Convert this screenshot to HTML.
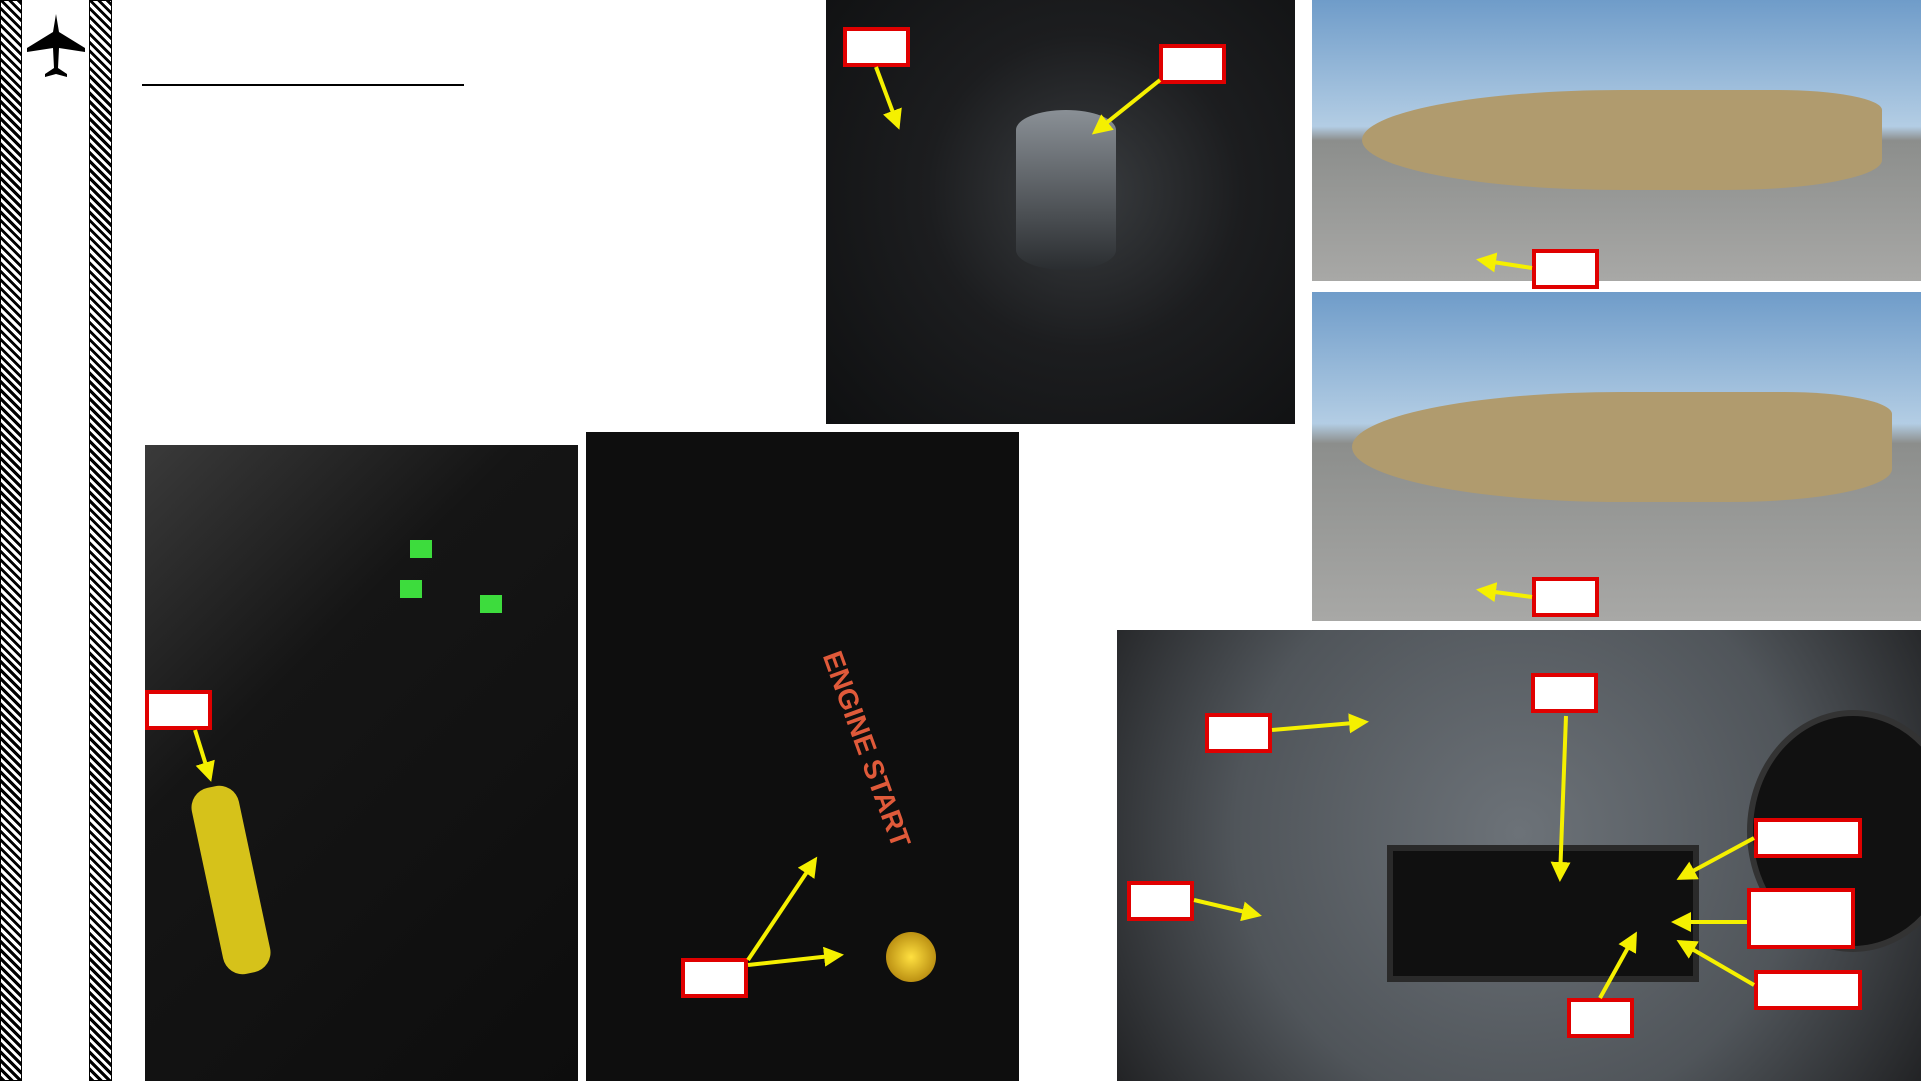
<!DOCTYPE html>
<html><head><meta charset="utf-8">
<style>
html,body{margin:0;padding:0;width:1921px;height:1081px;overflow:hidden;background:#fff;font-family:"Liberation Sans",sans-serif;}
.abs{position:absolute;}
.stripe{background:repeating-linear-gradient(45deg,#000 0 3px,#fff 3px 6px);border:1px solid #000;box-sizing:border-box;}
.photo{position:absolute;overflow:hidden;}
.box{position:absolute;background:#fff;border:4px solid #e00000;box-sizing:border-box;}
</style></head><body>
<div class="abs stripe" style="left:0;top:0;width:22px;height:1081px"></div>
<div class="abs stripe" style="left:89px;top:0;width:23px;height:1081px"></div>
<svg class="abs" style="left:25px;top:12px" width="62" height="70" viewBox="0 0 62 70">
<path d="M31 2 L34 20 L60 36 L60 40 L34 36 L33 56 L42 62 L42 65 L31 62 L20 65 L20 62 L29 56 L28 36 L2 40 L2 36 L28 20 Z" fill="#000"/></svg>
<div class="abs" style="left:142px;top:84px;width:322px;height:2px;background:#000"></div>

<div class="photo" style="left:826px;top:0;width:469px;height:424px;background:radial-gradient(circle at 55% 45%,#3a3d40 0,#1c1d1f 45%,#0f1011 100%)">
<div class="abs" style="left:190px;top:110px;width:100px;height:160px;border-radius:50px/20px;background:linear-gradient(#8a9096,#2a2d30)"></div></div>
<div class="photo" style="left:1312px;top:0;width:609px;height:281px;background:linear-gradient(#6f9cc9 0,#b3cde4 45%,#8c8e8c 50%,#a8a8a6 100%)">
<div class="abs" style="left:50px;top:90px;width:520px;height:100px;background:#b09b6e;border-radius:50% 20% 30% 50%"></div></div>
<div class="photo" style="left:1312px;top:292px;width:609px;height:329px;background:linear-gradient(#6f9cc9 0,#b3cde4 40%,#8c8e8c 46%,#a8a8a6 100%)">
<div class="abs" style="left:40px;top:100px;width:540px;height:110px;background:#b09b6e;border-radius:50% 20% 30% 50%"></div></div>
<div class="photo" style="left:145px;top:445px;width:433px;height:636px;background:linear-gradient(135deg,#3a3a3a 0,#151515 35%,#0d0d0d 100%)">
<div class="abs" style="left:62px;top:340px;width:48px;height:190px;background:#d6c21a;border-radius:20px;transform:rotate(-12deg)"></div>
<div class="abs" style="left:265px;top:95px;width:22px;height:18px;background:#3ddc3d"></div>
<div class="abs" style="left:255px;top:135px;width:22px;height:18px;background:#3ddc3d"></div>
<div class="abs" style="left:335px;top:150px;width:22px;height:18px;background:#3ddc3d"></div></div>
<div class="photo" style="left:586px;top:432px;width:433px;height:649px;background:#0e0e0e">
<div class="abs" style="left:300px;top:500px;width:50px;height:50px;border-radius:50%;background:radial-gradient(#ffe040,#a07000)"></div>
<div class="abs" style="left:260px;top:215px;color:#e05a3a;font-size:28px;font-weight:bold;white-space:nowrap;transform:rotate(70deg);transform-origin:left top">ENGINE START</div></div>
<div class="photo" style="left:1117px;top:630px;width:804px;height:451px;background:radial-gradient(circle at 50% 45%,#6c7278 0,#50555a 60%,#222325 100%)">
<div class="abs" style="left:270px;top:215px;width:300px;height:125px;background:#101010;border:6px solid #2a2a2a"></div>
<div class="abs" style="left:630px;top:80px;width:200px;height:230px;border-radius:50%;background:#111;border:6px solid #333"></div></div>

<div class="box" style="left:843px;top:27px;width:67px;height:40px"></div>
<div class="box" style="left:1159px;top:44px;width:67px;height:40px"></div>
<div class="box" style="left:1532px;top:249px;width:67px;height:40px"></div>
<div class="box" style="left:1532px;top:577px;width:67px;height:40px"></div>
<div class="box" style="left:145px;top:690px;width:67px;height:40px"></div>
<div class="box" style="left:681px;top:958px;width:67px;height:40px"></div>
<div class="box" style="left:1205px;top:713px;width:67px;height:40px"></div>
<div class="box" style="left:1531px;top:673px;width:67px;height:40px"></div>
<div class="box" style="left:1127px;top:881px;width:67px;height:40px"></div>
<div class="box" style="left:1754px;top:818px;width:108px;height:40px"></div>
<div class="box" style="left:1747px;top:888px;width:108px;height:61px"></div>
<div class="box" style="left:1754px;top:970px;width:108px;height:40px"></div>
<div class="box" style="left:1567px;top:998px;width:67px;height:40px"></div>
<svg class="abs" style="left:0;top:0" width="1921" height="1081">
<defs><marker id="ah" markerWidth="5" markerHeight="5" refX="4" refY="2.5" orient="auto"><path d="M0 0 L5 2.5 L0 5 Z" fill="#f5f000"/></marker></defs>
<g stroke="#f5f000" stroke-width="4" fill="none" marker-end="url(#ah)">
<line x1="876" y1="67" x2="898" y2="126"/><line x1="1160" y1="80" x2="1095" y2="132"/>
<line x1="1532" y1="268" x2="1480" y2="260"/><line x1="1532" y1="597" x2="1480" y2="590"/>
<line x1="195" y1="730" x2="210" y2="778"/><line x1="748" y1="960" x2="815" y2="860"/>
<line x1="748" y1="965" x2="840" y2="955"/><line x1="1272" y1="730" x2="1365" y2="722"/>
<line x1="1566" y1="716" x2="1560" y2="878"/><line x1="1194" y1="900" x2="1258" y2="915"/>
<line x1="1754" y1="838" x2="1680" y2="878"/><line x1="1747" y1="922" x2="1675" y2="922"/>
<line x1="1754" y1="985" x2="1680" y2="942"/><line x1="1600" y1="998" x2="1635" y2="935"/>
</g></svg>
</body></html>
